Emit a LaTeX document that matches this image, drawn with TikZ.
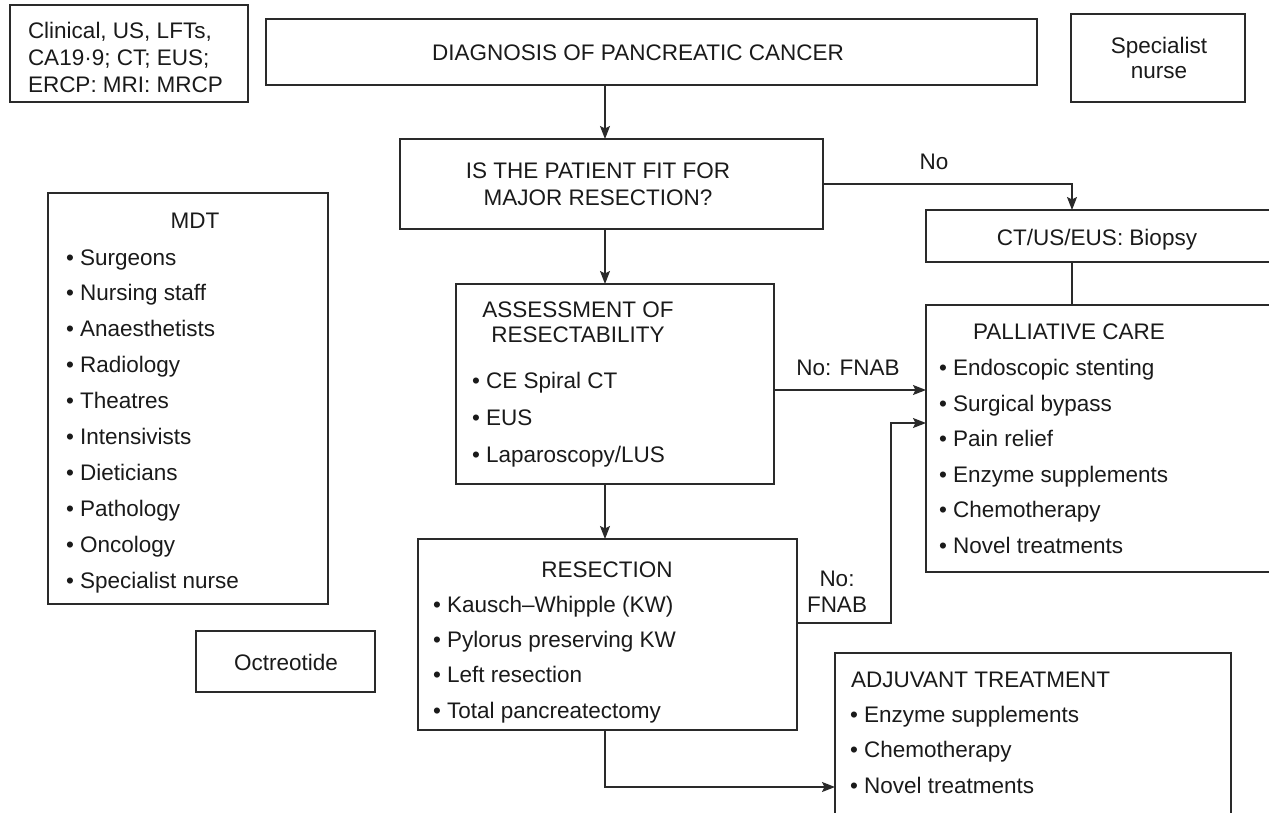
\documentclass[tikz,border=0pt]{standalone}
\usepackage{fontspec}
\setmainfont{Liberation Sans}
\usetikzlibrary{arrows.meta}
\definecolor{ln}{HTML}{2A2A2A}
\definecolor{tx}{HTML}{1A1A1A}
\newcommand\fsz{\fontsize{22.5}{26}\selectfont}
\tikzset{
  box/.style={draw=ln, line width=1.3pt, rectangle, inner sep=0pt, outer sep=0pt},
  txt/.style={inner sep=0pt, outer sep=0pt, text=tx, font=\fsz},
  bw/.style={txt, anchor=base west},
  bc/.style={txt, anchor=base},
  con/.style={draw=ln, line width=1.3pt},
  arr/.style={con, -{Stealth[length=13pt,width=10pt,inset=2.5pt]}}
}
\begin{document}
\begin{tikzpicture}[x=1pt,y=-1pt]
\useasboundingbox (0,0) rectangle (1269,812);
% boxes
\node[box, minimum width=238pt, minimum height=97pt] (clin) at (129,53.5) {};
\node[box, minimum width=771pt, minimum height=66pt] (diag) at (651.5,52) {};
\node[box, minimum width=174pt, minimum height=88pt] (spec) at (1158,58) {};
\node[box, minimum width=423pt, minimum height=90pt] (fit) at (611.5,184) {};
\node[box, minimum width=280pt, minimum height=411pt] (mdt) at (188,398.5) {};
\node[box, minimum width=179pt, minimum height=61pt] (oct) at (285.5,661.5) {};
\node[box, minimum width=318pt, minimum height=200pt] (assess) at (615,384) {};
\node[box, minimum width=379pt, minimum height=191pt] (resec) at (607.5,634.5) {};
\node[box, minimum width=345pt, minimum height=52pt] (ct) at (1098.5,236) {};
\node[box, minimum width=345pt, minimum height=267pt] (pall) at (1098.5,438.5) {};
\node[box, minimum width=396pt, minimum height=163pt] (adj) at (1033,734.5) {};
% texts
\node[bw] (clin1) at (28,38) {Clinical, US, LFTs,};
\node[bw] (clin2) at (28,65) {CA19·9; CT; EUS;};
\node[bw] (clin3) at (28,92) {ERCP: MRI: MRCP};
\node[bc] (diagt) at (638,60) {DIAGNOSIS OF PANCREATIC CANCER};
\node[bc] (spec1) at (1159,53) {Specialist};
\node[bc] (spec2) at (1159,78) {nurse};
\node[bc] (fit1) at (598,178) {IS THE PATIENT FIT FOR};
\node[bc] (fit2) at (598,205) {MAJOR RESECTION?};
\node[bc] (mdtt) at (195,228) {MDT};
\foreach \t [count=\i from 0] in {Surgeons, Nursing staff, Anaesthetists, Radiology, Theatres, Intensivists, Dieticians, Pathology, Oncology, Specialist nurse}
  \node[bw] (mdt\i) at (66,265+35.9*\i) {\textbullet\ \t};
\node[bc] (oct1) at (286,670) {Octreotide};
\node[bc] (as1) at (578,317) {ASSESSMENT OF};
\node[bc] (as2) at (578,342) {RESECTABILITY};
\node[bw] (asi1) at (472,388) {\textbullet\ CE Spiral CT};
\node[bw] (asi2) at (472,425) {\textbullet\ EUS};
\node[bw] (asi3) at (472,462) {\textbullet\ Laparoscopy/LUS};
\node[bc] (rst) at (607,577) {RESECTION};
\foreach \t [count=\i from 0] in {Kausch–Whipple (KW), Pylorus preserving KW, Left resection, Total pancreatectomy}
  \node[bw] (rs\i) at (433,612+35.4*\i) {\textbullet\ \t};
\node[bc] (ctt) at (1097,245) {CT/US/EUS: Biopsy};
\node[bc] (pallt) at (1069,339) {PALLIATIVE CARE};
\foreach \t [count=\i from 0] in {Endoscopic stenting, Surgical bypass, Pain relief, Enzyme supplements, Chemotherapy, Novel treatments}
  \node[bw] (pl\i) at (939,375.5+35.5*\i) {\textbullet\ \t};
\node[bw] (adjt) at (851,687) {ADJUVANT TREATMENT};
\foreach \t [count=\i from 0] in {Enzyme supplements, Chemotherapy, Novel treatments}
  \node[bw] (ad\i) at (850,722+35.5*\i) {\textbullet\ \t};
\node[bc] (lno) at (934,169) {No};
\node[bc] (lfn1) at (848,375) {No: FNAB};
\node[bc] (lfn2a) at (837,586) {No:};
\node[bc] (lfn2b) at (837,612) {FNAB};
% connectors
\coordinate (ax) at (605,0);
\coordinate (bx) at (1072,0);
\coordinate (cx) at (891,0);
\draw[arr] (ax |- diag.south) -- (ax |- fit.north);
\draw[arr] (fit.east) -| (bx |- ct.north);
\draw[con] (bx |- ct.south) -- (bx |- pall.north);
\draw[arr] (ax |- fit.south) -- (ax |- assess.north);
\draw[arr] (assess.east |- 0,390) -- (pall.west |- 0,390);
\draw[arr] (ax |- assess.south) -- (ax |- resec.north);
\draw[arr] (resec.east |- 0,623) -| (cx |- 0,423) -- (pall.west |- 0,423);
\draw[arr] (ax |- resec.south) |- (adj.west |- 0,787);
\end{tikzpicture}
\end{document}
